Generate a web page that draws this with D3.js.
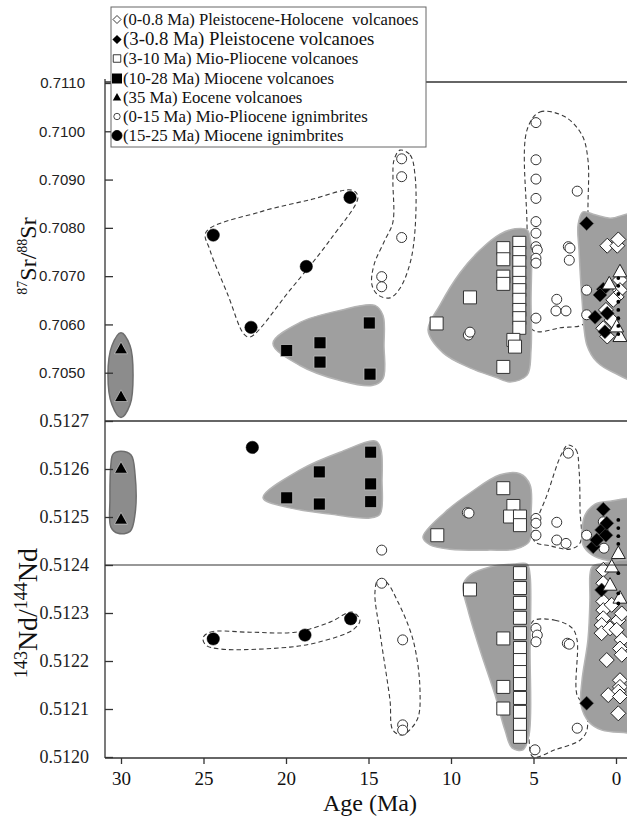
<!DOCTYPE html>
<html><head><meta charset="utf-8">
<script src="https://cdn.jsdelivr.net/npm/d3@7"></script>
<style>body{margin:0;background:#fff}</style>
</head><body>
<svg id="chart" width="627" height="818"></svg>
<script>
// ---------- axis ticks & labels ----------
const ageTicks = [30, 25, 20, 15, 10, 5, 0];
const srTicks = [0.7050, 0.7060, 0.7070, 0.7080, 0.7090, 0.7100, 0.7110];
const ndTicks = [0.5120, 0.5121, 0.5122, 0.5123, 0.5124, 0.5125, 0.5126, 0.5127];
const legendLabels = [
  "(0-0.8 Ma) Pleistocene-Holocene  volcanoes",
  "(3-0.8 Ma) Pleistocene volcanoes",
  "(3-10 Ma) Mio-Pliocene volcanoes",
  "(10-28 Ma) Miocene volcanoes",
  "(35 Ma) Eocene volcanoes",
  "(0-15 Ma) Mio-Pliocene ignimbrites",
  "(15-25 Ma) Miocene ignimbrites"
];
const legendSymbols = ["openDiamond","blackDiamond","openSquare","blackSquare","blackTriangle","openCircle","blackCircle"];

// ---------- Sr data [age Ma, 87Sr/86Sr] ----------
const srEoceneVolc = [[30.0,0.70549],[30.0,0.70450]];
const srMioIgn = [[24.41,0.70785],[22.12,0.70594],[18.77,0.70720],[16.12,0.70863]];
const srMioVolc = [[19.96,0.70546],[17.94,0.70562],[17.94,0.70522],[14.95,0.70603],[14.91,0.70497]];
const srMioPlioIgn = [[12.99,0.70943],[12.99,0.70906],[12.99,0.70780],[14.2,0.70699],[14.2,0.70678],
  [8.95,0.70578],[8.85,0.70584],[4.85,0.71018],[4.85,0.70941],[4.85,0.70901],[4.85,0.70861],
  [4.85,0.70813],[4.85,0.70789],[4.85,0.70761],[4.77,0.70754],[4.85,0.70737],[4.85,0.70727],
  [4.85,0.70613],[2.35,0.70876],[2.89,0.70761],[2.79,0.70758],[2.83,0.70733],[3.59,0.70652],
  [3.64,0.70628],[3.03,0.70628],[1.78,0.70671],[1.78,0.70620]];
const srMioPlioVolc = [[8.85,0.70656],[10.87,0.70602],[5.86,0.70769],[5.86,0.70748],[5.86,0.70729],
  [5.86,0.70707],[5.86,0.70686],[5.86,0.70671],[5.86,0.70651],[5.86,0.70630],[5.86,0.70613],
  [5.86,0.70593],[6.83,0.70758],[6.83,0.70735],[6.83,0.70699],[6.83,0.70684],[6.83,0.70512],
  [6.22,0.70568],[6.12,0.70554]];
const srPleistVolc = [[1.78,0.70809],[0.77,0.70673],[0.97,0.70661],[1.27,0.70615],[0.67,0.70585],[0.53,0.70623]];
const srHoloVolc = [[0.53,0.70763],[-0.08,0.70763],[-0.14,0.70776],[-0.24,0.70692],[-0.24,0.70671],
  [0.61,0.70630],[0.77,0.70592],[0.53,0.70575],[0.26,0.70609],[-0.04,0.70657],[0.16,0.70651]];
const srOpenTri = [[-0.24,0.70709],[0.41,0.70684],[-0.24,0.70575],[-0.04,0.70595]];
const srDots = [[-0.14,0.70696],[-0.14,0.70680],[-0.14,0.70663],[-0.14,0.70647],[-0.14,0.70630],
  [-0.14,0.70613],[-0.14,0.70597],[-0.14,0.70580]];

// ---------- Nd data [age Ma, 143Nd/144Nd] ----------
const ndEoceneVolc = [[30.0,0.512601],[30.0,0.512495]];
const ndMioIgn = [[22.04,0.512645],[24.41,0.512246],[18.85,0.512254],[16.08,0.512288]];
const ndMioVolc = [[19.96,0.512540],[17.98,0.512594],[17.98,0.512527],[14.87,0.512635],[14.87,0.512569],[14.87,0.512532]];
const ndMioPlioIgn = [[14.2,0.512431],[14.2,0.512362],[12.93,0.512244],[12.93,0.512067],[12.93,0.512056],
  [9.01,0.512509],[8.91,0.512508],[4.85,0.512497],[4.85,0.512487],[4.85,0.512462],[3.59,0.512489],
  [3.59,0.512452],[3.03,0.512445],[2.89,0.512633],[1.78,0.512462],[0.77,0.512490],[0.73,0.512435],
  [4.85,0.512268],[4.77,0.512254],[4.85,0.512240],[2.95,0.512237],[2.83,0.512235],[2.35,0.512060],[4.91,0.512015]];
const ndMioPlioVolc = [[10.83,0.512462],[6.83,0.512560],[6.22,0.512523],[6.42,0.512501],[5.82,0.512501],
  [5.82,0.512483],[8.85,0.512349],[6.83,0.512247],[6.83,0.512146],[6.83,0.512101],
  [5.82,0.512383],[5.82,0.512352],[5.82,0.512321],[5.82,0.512290],[5.82,0.512258],[5.82,0.512227],
  [5.82,0.512202],[5.82,0.512177],[5.82,0.512152],[5.82,0.512123],[5.82,0.512094],[5.82,0.512067],[5.82,0.512042]];
const ndPleistVolc = [[0.77,0.512516],[0.87,0.512473],[0.61,0.512462],[1.38,0.512438],[1.17,0.512452],
  [0.56,0.512487],[1.78,0.512112],[0.87,0.512348]];
const ndHoloVolc = [[0.77,0.512390],[0.77,0.512362],[0.77,0.512324],[0.77,0.512306],[0.77,0.512289],
  [0.87,0.512275],[0.87,0.512258],[0.36,0.512268],[-0.14,0.512285],[-0.04,0.512265],[-0.35,0.512244],
  [-0.24,0.512226],[-0.35,0.512213],[0.56,0.512202],[-0.24,0.512160],[-0.24,0.512146],[-0.14,0.512136],
  [0.47,0.512129],[-0.24,0.512126],[-0.14,0.512091],[0.26,0.512317],[-0.35,0.512299]];
const ndOpenTri = [[-0.14,0.512424],[0.26,0.512396],[0.36,0.512358],[-0.24,0.512331]];
const ndDots = [[-0.14,0.512494],[-0.14,0.512477],[-0.14,0.512460],[-0.14,0.512444],
  [-0.14,0.512383],[-0.14,0.512341],[-0.14,0.512320]];

// ---------- field outlines (gray fields) ----------
const srEoceneField = [[30.0,0.70583],[29.45,0.70556],[29.27,0.70496],[29.45,0.70434],[30.0,0.70407],
  [30.55,0.70434],[30.79,0.70496],[30.55,0.70556]];
const srMioVolcField = [[20.79,0.705606],[19.15,0.706041],[16.73,0.706290],[14.61,0.706394],[14.12,0.706187],
  [14.06,0.705564],[14.12,0.704880],[14.79,0.704734],[16.73,0.704838],[19.15,0.705149]];
const srMioPlioVolcField = [[11.39,0.70588],[10.67,0.70640],[9.45,0.70707],[8.24,0.70754],[7.03,0.70787],
  [6.12,0.70798],[5.39,0.70796],[5.15,0.70765],[5.15,0.70651],[5.15,0.70547],[5.39,0.70495],
  [6.42,0.70481],[7.33,0.70491],[8.85,0.70510],[10.48,0.70541]];
const srYoungField = [[2.0,0.70833],[1.27,0.70827],[0.36,0.70820],[-1.45,0.70827],[-1.45,0.70485],
  [0.18,0.70501],[1.15,0.70522],[1.76,0.70557],[2.06,0.70651],[2.24,0.70754],[2.30,0.70806]];
const ndEoceneField = [[30.48,0.512631],[30.0,0.512637],[29.39,0.512629],[29.15,0.512589],[29.15,0.512506],
  [29.45,0.512470],[30.18,0.512466],[30.61,0.512479],[30.67,0.512537],[30.61,0.512610]];
const ndMioVolcField = [[21.39,0.512540],[19.15,0.512598],[16.73,0.512635],[14.55,0.512658],[14.24,0.512640],
  [14.18,0.512577],[14.30,0.512506],[14.91,0.512498],[17.33,0.512506],[19.76,0.512519]];
const ndMioPlioVolcFieldA = [[11.70,0.512458],[10.36,0.512510],[8.85,0.512550],[7.03,0.512588],[5.82,0.512590],
  [5.21,0.512567],[5.15,0.512504],[5.27,0.512448],[6.12,0.512433],[7.64,0.512431],[10.06,0.512433],[11.27,0.512442]];
const ndYoungFieldA = [[2.06,0.512467],[1.88,0.512504],[1.27,0.512527],[0.36,0.512533],[-1.45,0.512533],
  [-1.45,0.512410],[0.55,0.512410],[1.45,0.512421],[2.0,0.512442]];
const ndMioPlioVolcFieldB = [[9.27,0.512358],[8.85,0.512379],[7.64,0.512396],[6.12,0.512402],[5.39,0.512402],
  [5.21,0.512379],[5.21,0.512223],[5.27,0.512046],[5.64,0.512015],[6.30,0.512019],[6.73,0.512056],
  [7.33,0.512129],[8.24,0.512223],[8.97,0.512306]];
const ndYoungFieldB = [[1.45,0.512396],[0.97,0.512402],[-1.45,0.512402],[-1.45,0.512046],[-0.67,0.512050],
  [0.85,0.512056],[1.64,0.512073],[2.12,0.512108],[2.06,0.512160],[1.70,0.512244],[1.58,0.512327],[1.58,0.512379]];

// ---------- dashed ignimbrite outlines ----------
const srIgnLoopA = [[24.85,0.70791],[21.58,0.70833],[18.55,0.70858],[16.0,0.70878],[15.64,0.70864],
  [17.33,0.70775],[19.76,0.70671],[22.18,0.70574],[22.55,0.70580],[23.52,0.70661],[24.61,0.70754]];
const srIgnLoopB = [[13.09,0.70961],[12.48,0.70951],[12.18,0.70909],[12.18,0.70796],[12.48,0.70727],
  [13.09,0.70675],[13.70,0.70655],[14.42,0.70661],[14.79,0.70682],[14.67,0.70723],[14.0,0.70775],
  [13.52,0.70812],[13.52,0.70899],[13.45,0.70941]];
const srIgnLoopC = [[5.39,0.71003],[4.61,0.71040],[3.09,0.71030],[2.06,0.70992],[1.70,0.70941],
  [1.70,0.70837],[1.70,0.70671],[1.88,0.70603],[3.39,0.70593],[4.91,0.70586],[5.39,0.70609],[5.39,0.70796]];
const ndIgnLoopA = [[2.91,0.512650],[2.42,0.512640],[2.24,0.512598],[2.18,0.512515],[2.18,0.512446],
  [2.79,0.512433],[4.0,0.512440],[4.91,0.512448],[5.03,0.512467],[4.18,0.512546],[3.33,0.512629]];
const ndIgnLoopB = [[5.03,0.512283],[3.70,0.512285],[2.67,0.512269],[2.36,0.512244],[2.36,0.512129],
  [1.88,0.512106],[1.76,0.512056],[2.18,0.512035],[3.70,0.512015],[5.03,0.512000],[5.27,0.512035],[5.21,0.512244]];
const ndIgnLoopC = [[14.42,0.512369],[13.94,0.512365],[13.27,0.512327],[12.30,0.512244],[11.88,0.512140],
  [12.06,0.512077],[12.97,0.512046],[13.52,0.512056],[13.70,0.512119],[14.30,0.512258],[14.61,0.512342]];
const ndIgnLoopD = [[25.03,0.512248],[24.61,0.512260],[22.18,0.512260],[19.45,0.512260],[17.33,0.512281],
  [16.0,0.512302],[15.52,0.512285],[15.94,0.512265],[17.94,0.512240],[19.76,0.512229],[24.0,0.512225],[24.85,0.512233]];

// ---------- drawing ----------
const svg = d3.select("#chart");
const W = 627, plotLeft = 105, plotTop = 82, plotBottom = 758, plotMid = 421;
const x = d3.scaleLinear().domain([30, 0]).range([121, 616]);
const ySr = d3.scaleLinear().domain([0.7040, 0.7110]).range([421, 83]);
const yNd = d3.scaleLinear().domain([0.5120, 0.5127]).range([757, 421]);

svg.append("defs").append("clipPath").attr("id","plotclip")
  .append("rect").attr("x", plotLeft).attr("y", plotTop).attr("width", W - plotLeft).attr("height", plotBottom - plotTop);

const plot = svg.append("g").attr("clip-path","url(#plotclip)");
const closed = y => d3.line().x(d => x(d[0])).y(d => y(d[1])).curve(d3.curveCatmullRomClosed.alpha(0.5));

// dashed outlines (beneath the gray fields)
const dashStyle = s => s.attr("fill","none").attr("stroke","#3a3a3a").attr("stroke-width",1.1).attr("stroke-dasharray","4.5,3");
[srIgnLoopA, srIgnLoopB, srIgnLoopC].forEach(d => plot.append("path").attr("d", closed(ySr)(d)).call(dashStyle));
[ndIgnLoopA, ndIgnLoopB, ndIgnLoopC, ndIgnLoopD].forEach(d => plot.append("path").attr("d", closed(yNd)(d)).call(dashStyle));

// gray fields
const fieldStyle = s => s.attr("fill","#9f9f9f").attr("stroke","#b4b4b4").attr("stroke-width",1.5);
[srMioVolcField, srMioPlioVolcField, srYoungField].forEach(d => plot.append("path").attr("d", closed(ySr)(d)).call(fieldStyle));
[ndMioVolcField, ndMioPlioVolcFieldA, ndYoungFieldA, ndMioPlioVolcFieldB, ndYoungFieldB].forEach(d => plot.append("path").attr("d", closed(yNd)(d)).call(fieldStyle));
plot.append("path").attr("d", closed(ySr)(srEoceneField)).attr("fill","#8c8c8c").attr("stroke","#6e6e6e").attr("stroke-width",1.5);
plot.append("path").attr("d", closed(yNd)(ndEoceneField)).attr("fill","#8c8c8c").attr("stroke","#6e6e6e").attr("stroke-width",1.5);

// symbol shapes
const shapes = {
  diamond: r => `M0,${-r}L${r},0L0,${r}L${-r},0Z`,
  square: s => `M${-s/2},${-s/2}h${s}v${s}h${-s}Z`,
  triangle: s => { const h = s * 0.9; return `M0,${-h*0.6}L${s/2},${h*0.4}L${-s/2},${h*0.4}Z`; }
};
const styles = {
  openDiamond:  {shape:"diamond", size:7.5, fill:"#fff", stroke:"#222", sw:1},
  blackDiamond: {shape:"diamond", size:7, fill:"#000", stroke:"#555", sw:0.6},
  openSquare:   {shape:"square", size:13, fill:"#fff", stroke:"#333", sw:1},
  blackSquare:  {shape:"square", size:12, fill:"#000", stroke:"#ccc", sw:0.7},
  blackTriangle:{shape:"triangle", size:13, fill:"#000", stroke:"#ddd", sw:0.6},
  openTriangle: {shape:"triangle", size:14, fill:"#fff", stroke:"#222", sw:1},
  openCircle:   {shape:"circle", size:5, fill:"#fff", stroke:"#333", sw:1},
  blackCircle:  {shape:"circle", size:6.2, fill:"#000", stroke:"#000", sw:0.5},
  dot:          {shape:"circle", size:1.9, fill:"#000", stroke:"none", sw:0}
};
function drawPoints(g, data, yScale, key) {
  const st = styles[key];
  const sel = g.append("g").selectAll("*").data(data);
  if (st.shape === "circle") {
    sel.join("circle").attr("cx", d => x(d[0])).attr("cy", d => yScale(d[1])).attr("r", st.size)
      .attr("fill", st.fill).attr("stroke", st.stroke).attr("stroke-width", st.sw);
  } else {
    sel.join("path").attr("transform", d => `translate(${x(d[0])},${yScale(d[1])})`)
      .attr("d", shapes[st.shape](st.size))
      .attr("fill", st.fill).attr("stroke", st.stroke).attr("stroke-width", st.sw);
  }
}
// Sr panel points
drawPoints(plot, srMioPlioVolc, ySr, "openSquare");
drawPoints(plot, srMioPlioIgn, ySr, "openCircle");
drawPoints(plot, srMioVolc, ySr, "blackSquare");
drawPoints(plot, srMioIgn, ySr, "blackCircle");
drawPoints(plot, srEoceneVolc, ySr, "blackTriangle");
drawPoints(plot, srHoloVolc, ySr, "openDiamond");
drawPoints(plot, srPleistVolc, ySr, "blackDiamond");
drawPoints(plot, srOpenTri, ySr, "openTriangle");
drawPoints(plot, srDots, ySr, "dot");
// Nd panel points
drawPoints(plot, ndMioPlioVolc, yNd, "openSquare");
drawPoints(plot, ndMioPlioIgn, yNd, "openCircle");
drawPoints(plot, ndMioVolc, yNd, "blackSquare");
drawPoints(plot, ndMioIgn, yNd, "blackCircle");
drawPoints(plot, ndEoceneVolc, yNd, "blackTriangle");
drawPoints(plot, ndHoloVolc, yNd, "openDiamond");
drawPoints(plot, ndPleistVolc, yNd, "blackDiamond");
drawPoints(plot, ndOpenTri, yNd, "openTriangle");
drawPoints(plot, ndDots, yNd, "dot");

// frame lines
const lineCol = "#333";
svg.append("line").attr("x1", plotLeft).attr("x2", W).attr("y1", plotTop).attr("y2", plotTop).attr("stroke", lineCol).attr("stroke-width", 1.3);
svg.append("line").attr("x1", plotLeft).attr("x2", W).attr("y1", plotMid).attr("y2", plotMid).attr("stroke", lineCol).attr("stroke-width", 1.3);
svg.append("line").attr("x1", plotLeft).attr("x2", W).attr("y1", yNd(0.5124)).attr("y2", yNd(0.5124)).attr("stroke", lineCol).attr("stroke-width", 1.1);

// x axis
const xAxis = svg.append("g").attr("transform", `translate(0,${plotBottom})`)
  .call(d3.axisBottom(x).tickValues(ageTicks).tickFormat(d3.format("d")).tickSize(6).tickSizeOuter(0).tickPadding(8));
xAxis.select(".domain").attr("d", `M${plotLeft},0H${W}`).attr("stroke", lineCol).attr("stroke-width", 1.3);
xAxis.selectAll(".tick line").attr("stroke", lineCol).attr("stroke-width", 1.3);
xAxis.selectAll("text").attr("font-family", "'Liberation Serif','Times New Roman',serif").attr("font-size", 19).attr("fill", "#111");

// y axis Sr (ticks inward)
const srAxis = svg.append("g").attr("transform", `translate(${plotLeft},0)`)
  .call(d3.axisLeft(ySr).tickValues(srTicks).tickFormat(d3.format(".4f")).tickSize(-8).tickSizeOuter(0).tickPadding(20));
srAxis.select(".domain").remove();
srAxis.selectAll(".tick line").attr("stroke", lineCol).attr("stroke-width", 1.3);
srAxis.selectAll("text").attr("font-family", "'Liberation Sans',Arial,sans-serif").attr("font-size", 15).attr("fill", "#222");

// y axis Nd
const ndAxis = svg.append("g").attr("transform", `translate(${plotLeft},0)`)
  .call(d3.axisLeft(yNd).tickValues(ndTicks).tickFormat(d3.format(".4f")).tickSize(-8).tickSizeOuter(0).tickPadding(16));
ndAxis.select(".domain").remove();
ndAxis.selectAll(".tick line").attr("stroke", lineCol).attr("stroke-width", 1.3);
ndAxis.selectAll("text").attr("font-family", "'Liberation Serif','Times New Roman',serif").attr("font-size", 18).attr("fill", "#222");

svg.append("line").attr("x1", plotLeft).attr("x2", plotLeft).attr("y1", plotTop - 3).attr("y2", plotBottom).attr("stroke", lineCol).attr("stroke-width", 1.3);

// axis titles
const serif = "'Liberation Serif','Times New Roman',serif";
svg.append("text").attr("x", 370).attr("y", 811).attr("text-anchor", "middle")
  .attr("font-family", serif).attr("font-size", 24).attr("fill", "#111").text("Age (Ma)");

const srTitle = svg.append("text").attr("transform", "translate(36,256) rotate(-90)").attr("text-anchor", "middle")
  .attr("font-family", serif).attr("fill", "#111");
[["87", true], ["Sr/", false], ["88", true], ["Sr", false]].forEach(([t, sup], i) => {
  srTitle.append("tspan").attr("font-size", sup ? 14 : 24).attr("dy", i === 0 ? -9 : (sup ? -9 : 9)).text(t);
});

const ndTitle = svg.append("text").attr("transform", "translate(37,613) rotate(-90)").attr("text-anchor", "middle")
  .attr("font-family", serif).attr("fill", "#111");
[["143", true], ["Nd/", false], ["144", true], ["Nd", false]].forEach(([t, sup], i) => {
  ndTitle.append("tspan").attr("font-size", sup ? 18 : 28).attr("dy", i === 0 ? -10 : (sup ? -10 : 10)).text(t);
});

// legend
const lg = svg.append("g");
lg.append("rect").attr("x", 111).attr("y", 7).attr("width", 315).attr("height", 140)
  .attr("fill", "#fff").attr("stroke", "#666").attr("stroke-width", 1);
const legendBase = [25, 45, 64, 84, 103, 122, 141];
const legendSize = [16.6, 18.8, 16.8, 16.8, 16.8, 16.8, 16.8];
const legendSym = {
  openDiamond: {size:4}, blackDiamond:{size:4.6}, openSquare:{size:7.5}, blackSquare:{size:10},
  blackTriangle:{size:8.5}, openCircle:{size:3.2}, blackCircle:{size:5}
};
legendLabels.forEach((lab, i) => {
  const key = legendSymbols[i], st = styles[key], cy = legendBase[i] - 5.5, cx = 117;
  if (st.shape === "circle") {
    lg.append("circle").attr("cx", cx).attr("cy", cy).attr("r", legendSym[key].size)
      .attr("fill", st.fill).attr("stroke", st.stroke).attr("stroke-width", 0.9);
  } else {
    lg.append("path").attr("transform", `translate(${cx},${cy})`).attr("d", shapes[st.shape](legendSym[key].size))
      .attr("fill", st.fill).attr("stroke", key.startsWith("open") ? "#222" : "none").attr("stroke-width", 0.9);
  }
  lg.append("text").attr("x", 123).attr("y", legendBase[i]).attr("font-family", serif)
    .attr("font-size", legendSize[i]).attr("fill", "#111").style("white-space", "pre").text(lab);
});
</script>
</body></html>
